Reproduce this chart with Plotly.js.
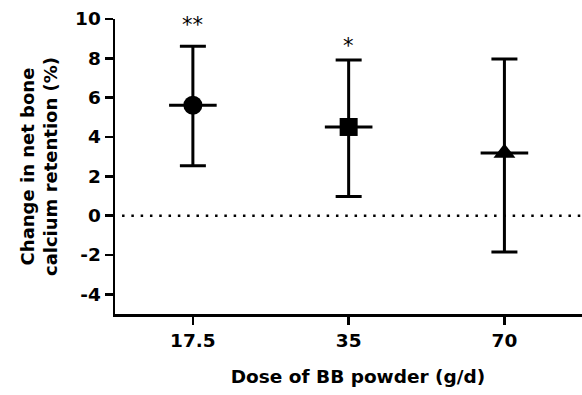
<!DOCTYPE html>
<html>
<head>
<meta charset="utf-8">
<script src="https://cdn.plot.ly/plotly-3.0.1.min.js"></script>
<style>html,body{margin:0;padding:0;background:#fff;overflow:hidden;width:582px;height:395px;}#chart{width:601px;height:395px;}</style>
</head>
<body>
<div id="chart"></div>
<script>
// ---- data ----
const doses = ['17.5', '35', '70'];
const means = [5.61, 4.51, 3.19];
const upper = [8.61, 7.91, 7.96];
const lower = [2.54, 0.98, -1.85];
const symbols = ['circle', 'square', 'triangle-up'];
const sigLabels = ['**', '*'];
const sigY = [9.72, 8.62];
const yTicks = [-4, -2, 0, 2, 4, 6, 8, 10];

const errPlus = upper.map((u, i) => +(u - means[i]).toFixed(2));
const errMinus = lower.map((l, i) => +(means[i] - l).toFixed(2));

const FONT = 'DejaVu Sans, sans-serif';

const traces = [
  {
    type: 'scatter', mode: 'markers', x: doses, y: means,
    marker: { symbol: symbols, size: [19, 18, 19], color: '#000', opacity: 1,
              line: { width: 0 } },
    error_y: { type: 'data', symmetric: false, array: errPlus, arrayminus: errMinus,
               color: '#000', thickness: 3, width: 13 },
    showlegend: false, hoverinfo: 'skip', cliponaxis: false
  },
  {
    type: 'scatter', mode: 'markers', x: doses, y: means,
    marker: { symbol: 'line-ew', size: 34, color: '#000', opacity: 1,
              line: { color: '#000', width: 3 } },
    showlegend: false, hoverinfo: 'skip', cliponaxis: false
  }
];

const annotations = sigLabels.map((t, i) => ({
  x: i, y: sigY[i], xref: 'x', yref: 'y', text: t, showarrow: false,
  xanchor: 'center', yanchor: 'middle',
  font: { family: FONT, size: 21, color: '#000' }
}));

const layout = {
  width: 601, height: 395,
  margin: { l: 115, r: 0, t: 19, b: 81, pad: 0 },
  paper_bgcolor: '#fff', plot_bgcolor: '#fff',
  showlegend: false,
  xaxis: {
    type: 'category', range: [-0.5, 2.62], fixedrange: true,
    showline: true, linecolor: '#000', linewidth: 2.5,
    ticks: 'outside', ticklen: 8, tickwidth: 2.5, tickcolor: '#000',
    showgrid: false, zeroline: false,
    tickfont: { family: FONT, size: 18.5, color: '#000', weight: 'bold' },
    title: { text: 'Dose of BB powder (g/d)', standoff: 21,
             font: { family: FONT, size: 18.5, color: '#000', weight: 'bold' } },
    automargin: false
  },
  yaxis: {
    range: [-5, 10], fixedrange: true,
    tickmode: 'array', tickvals: yTicks, ticktext: yTicks.map(String),
    showline: true, linecolor: '#000', linewidth: 2.5,
    ticks: 'outside', ticklen: 8, tickwidth: 2.5, tickcolor: '#000',
    showgrid: false, zeroline: false,
    tickfont: { family: FONT, size: 18.5, color: '#000', weight: 'bold' },
    title: { text: 'Change in net bone<br>calcium retention (%)', standoff: 13,
             font: { family: FONT, size: 18, color: '#000', weight: 'bold' } },
    automargin: false
  },
  shapes: [{
    type: 'line', xref: 'paper', yref: 'y', x0: 0.0145, x1: 1, y0: 0, y1: 0,
    line: { color: '#000', width: 2.5, dash: '2.5px,6.8px' }, layer: 'below'
  }],
  annotations: annotations
};

Plotly.newPlot('chart', traces, layout, { displayModeBar: false, staticPlot: true });
</script>
</body>
</html>
